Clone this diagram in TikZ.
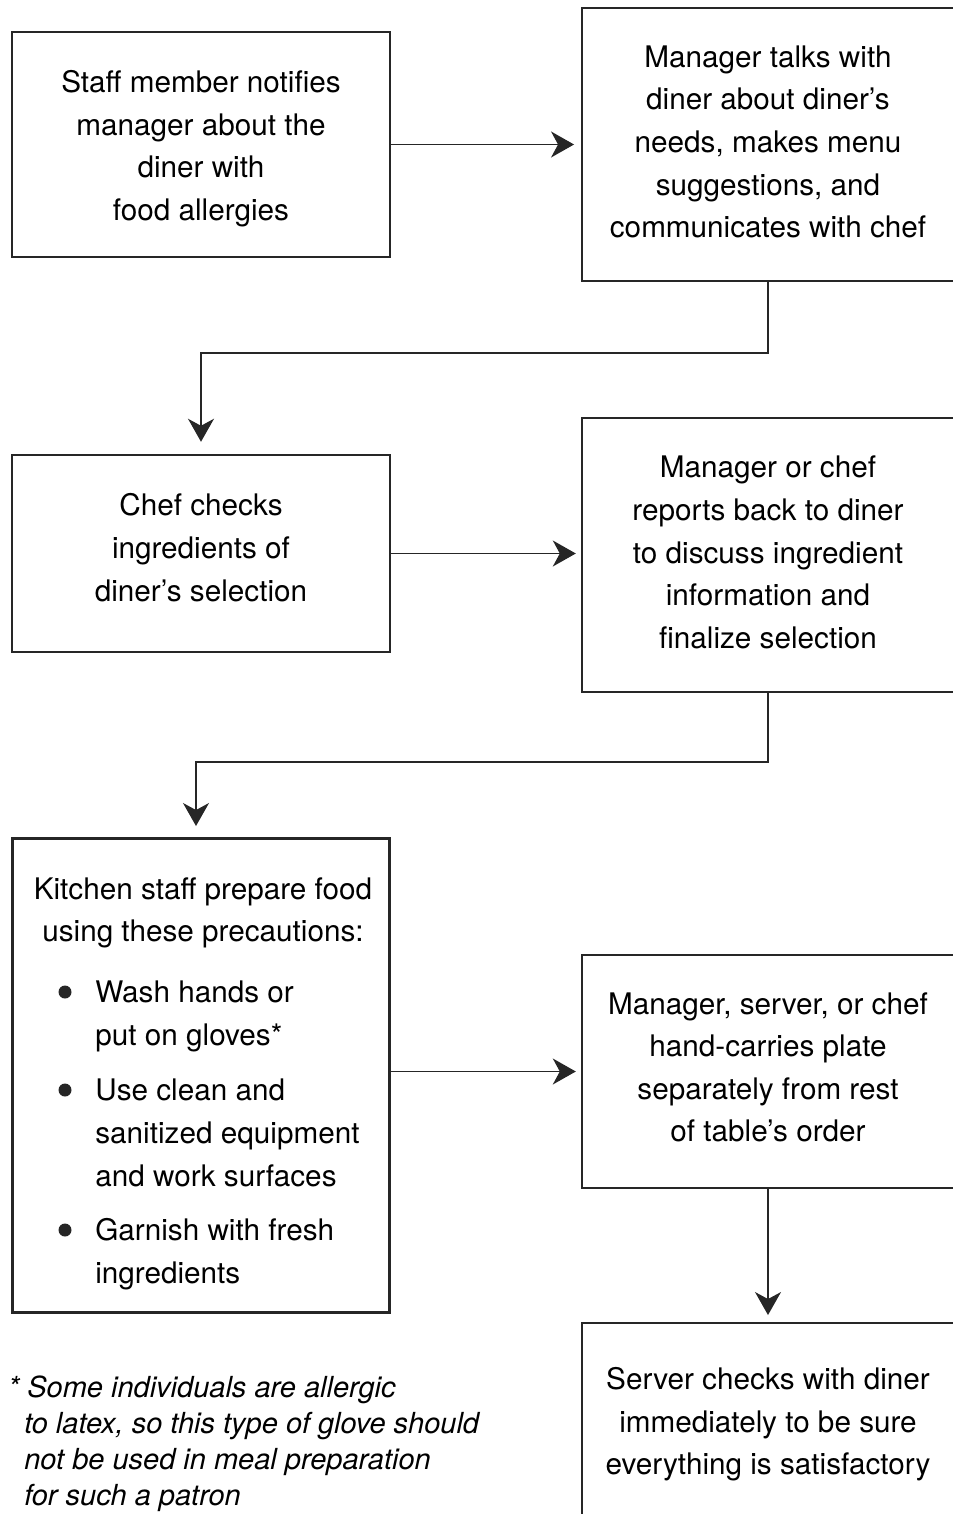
\documentclass[tikz,border=0pt]{standalone}
\usepackage{fontspec}
\setmainfont{TeX Gyre Heros}
\usetikzlibrary{arrows.meta,positioning}
% lines of a box, moved up or down inside it
\newcommand{\boxlines}[2]{\raisebox{#1}[\height][\depth]{\begin{tabular}{@{}c@{}}#2\end{tabular}}}

\begin{document}
\begin{tikzpicture}[x=0.02cm,y=-0.02cm]
\tikzset{
block/.style={rectangle,draw=black!85,line width=1.1pt,inner sep=0pt,
  font=\fontsize{16.9}{24.2}\selectfont},
leftblock/.style={block,minimum width=7.56cm},
rightblock/.style={block,minimum width=7.44cm},
itemtext/.style={align=left,anchor=base west,inner sep=0pt,font=\fontsize{16.9}{24.2}\selectfont},
myarrow/.style={-{Stealth[length=4.6mm,width=5.2mm,inset=1.4mm]}, line width=0.8pt, draw=black!85},
notetext/.style={align=left,anchor=base west,inner sep=0pt,font=\fontsize{16.5}{20.5}\selectfont\itshape},
}
\path[use as bounding box,clip] (0,0) rectangle (953,1514);

\node [leftblock, minimum height=4.5cm] (notify) at (201,144.5)
  {\boxlines{-0.07cm}{Staff member notifies\\manager about the\\diner with\\food allergies}};
\node [rightblock, minimum height=5.46cm] (talks) at (768,144.5)
  {\boxlines{0.01cm}{Manager talks with\\diner about diner’s\\needs, makes menu\\suggestions, and\\communicates with chef}};
\node [leftblock, minimum height=3.94cm] (checks) at (201,553.5)
  {\boxlines{0.07cm}{Chef checks\\ingredients of\\diner’s selection}};
\node [rightblock, minimum height=5.48cm] (reports) at (768,555)
  {\boxlines{0.01cm}{Manager or chef\\reports back to diner\\to discuss ingredient\\information and\\finalize selection}};
\node [leftblock, minimum height=9.5cm, line width=1.7pt] (kitchen) at (201,1075.5) {};
\node [rightblock, minimum height=4.66cm] (carries) at (768,1071.5)
  {\boxlines{0.04cm}{Manager, server, or chef\\hand-carries plate\\separately from rest\\of table’s order}};
\node [rightblock, minimum height=3.94cm] (serverchk) at (768,1421.5)
  {\boxlines{-0.04cm}{Server checks with diner\\immediately to be sure\\everything is satisfactory}};

% precautions inside the kitchen box
\node [block, draw=none] (kitchenhead) at (203,910) {\boxlines{-0.04cm}{Kitchen staff prepare food\\using these precautions:}};
\node [itemtext] (wash) at (95,1045) {Wash hands or\\put on gloves*};
\node [itemtext] (clean) at (95,1186) {Use clean and\\sanitized equipment\\and work surfaces};
\node [itemtext] (garnish) at (95,1283) {Garnish with fresh\\ingredients};
\fill[black!85] (65,992) circle (6.5);
\fill[black!85] (65,1090) circle (6.5);
\fill[black!85] (65,1230) circle (6.5);

% footnote
\node [notetext] (latexnote) at (24,1505.5)
  {\llap{*\,}\hspace{0.06cm}Some individuals are allergic\\to latex, so this type of glove should\\not be used in meal preparation\\for such a patron};

\draw[myarrow, shorten >=4pt] (notify.east) -- (talks.west);
\draw[myarrow, shorten >=7pt] (talks.south) -- ++(0,71) -| (checks.north);
\draw[myarrow, shorten >=3pt] (checks.east) -- (checks.east -| reports.west);
\draw[myarrow, shorten >=6pt] (reports.south) -- ++(0,69) -| ([xshift=-1mm]kitchen.north);
\draw[myarrow, shorten >=3pt] (kitchen.east |- carries.west) -- (carries.west);
\draw[myarrow, shorten >=4pt] (carries.south) -- (serverchk.north);
\end{tikzpicture}
\end{document}
